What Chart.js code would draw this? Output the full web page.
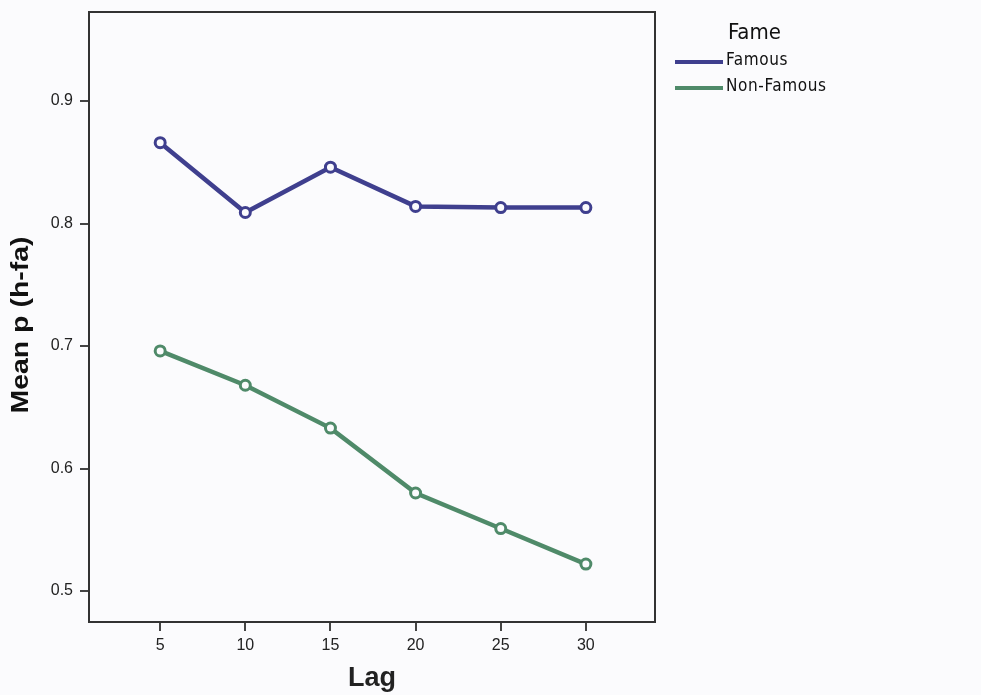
<!DOCTYPE html>
<html>
<head>
<meta charset="utf-8">
<script src="https://cdn.jsdelivr.net/npm/chart.js@4"></script>
<style>
  html, body { margin: 0; padding: 0; background: #fbfbfd; }
  #wrap { position: relative; width: 981px; height: 695px; }
</style>
</head>
<body>
<div id="wrap"><canvas id="c" width="981" height="695"></canvas></div>
<script>
const lags = [5, 10, 15, 20, 25, 30];
const famous = [0.866, 0.809, 0.846, 0.814, 0.813, 0.813];
const nonFamous = [0.696, 0.668, 0.633, 0.580, 0.551, 0.522];
const yTicks = [0.5, 0.6, 0.7, 0.8, 0.9];
const seriesNames = ['Famous', 'Non-Famous'];
const legendTitle = 'Fame';
const xTitle = 'Lag';
const yTitle = 'Mean p (h-fa)';

const colors = ['#3f3f8e', '#4f8a69'];
const bg = '#fbfbfd';

const framePlugin = {
  id: 'frame',
  afterDraw(chart) {
    const { ctx, chartArea: a } = chart;
    ctx.save();
    ctx.strokeStyle = '#333';
    ctx.lineWidth = 2;
    ctx.strokeRect(a.left, a.top, a.right - a.left, a.bottom - a.top);

    // y axis title (wide bold, stretched along its length)
    ctx.save();
    ctx.fillStyle = '#111';
    ctx.font = 'bold 23px "Liberation Sans", Arial, sans-serif';
    ctx.textAlign = 'center';
    ctx.textBaseline = 'middle';
    const w = ctx.measureText(yTitle).width;
    ctx.translate(22, 325);
    ctx.rotate(-Math.PI / 2);
    ctx.scale(177 / w, 1);
    ctx.fillText(yTitle, 0, 0);
    ctx.restore();

    // legend
    ctx.fillStyle = '#111';
    ctx.font = '22px "DejaVu Sans Condensed", "DejaVu Sans", sans-serif';
    ctx.textBaseline = 'middle';
    ctx.textAlign = 'left';
    ctx.fillText(legendTitle, 728, 33);
    chart.data.datasets.forEach((ds, i) => {
      const y = 62 + i * 26;
      ctx.strokeStyle = ds.borderColor;
      ctx.lineWidth = 4;
      ctx.beginPath();
      ctx.moveTo(675, y);
      ctx.lineTo(723, y);
      ctx.stroke();
      ctx.fillStyle = '#111';
      ctx.font = '17px "DejaVu Sans Condensed", "DejaVu Sans", sans-serif';
      try { ctx.letterSpacing = '0.6px'; } catch (e) {}
      ctx.fillText(ds.label, 726, y - 1);
      try { ctx.letterSpacing = '0px'; } catch (e) {}
    });
    ctx.restore();
  }
};

new Chart(document.getElementById('c'), {
  type: 'line',
  data: {
    datasets: [
      { label: seriesNames[0], data: lags.map((x, i) => ({ x, y: famous[i] })) },
      { label: seriesNames[1], data: lags.map((x, i) => ({ x, y: nonFamous[i] })) }
    ].map((d, i) => Object.assign(d, {
      borderColor: colors[i],
      backgroundColor: bg,
      borderWidth: 4.5,
      pointRadius: 5,
      pointBorderWidth: 3,
      pointBackgroundColor: bg,
      pointBorderColor: colors[i],
      tension: 0
    }))
  },
  options: {
    responsive: false,
    animation: false,
    events: [],
    layout: { padding: { top: 12, right: 326, bottom: 0, left: 0 } },
    plugins: { legend: { display: false }, tooltip: { enabled: false } },
    scales: {
      x: {
        type: 'linear',
        min: 0.82,
        max: 34.06,
        afterBuildTicks(s) { s.ticks = lags.map(v => ({ value: v })); },
        afterFit(s) { s.height = 73; s.paddingLeft = 0; s.paddingRight = 0; },
        grid: { drawOnChartArea: false, drawTicks: true, tickLength: 9, color: '#444', lineWidth: 2 },
        border: { display: true, color: '#333', width: 2 },
        ticks: {
          color: '#222',
          padding: 5,
          font: { family: '"Liberation Sans Narrow", "Liberation Sans", sans-serif', size: 16 },
          maxRotation: 0
        },
        title: {
          display: true, text: xTitle, color: '#222',
          font: { family: '"Liberation Sans Narrow", "Liberation Sans", sans-serif', size: 27, weight: 'bold' },
          padding: { top: 2, bottom: 0 }
        }
      },
      y: {
        type: 'linear',
        min: 0.4747,
        max: 0.9727,
        afterBuildTicks(s) { s.ticks = yTicks.map(v => ({ value: v })); },
        afterFit(s) { s.width = 89; s.paddingTop = 0; s.paddingBottom = 0; },
        grid: { drawOnChartArea: false, drawTicks: true, tickLength: 9, color: '#444', lineWidth: 2 },
        border: { display: true, color: '#333', width: 2 },
        ticks: {
          color: '#222',
          padding: 7,
          font: { family: '"Liberation Sans Narrow", "Liberation Sans", sans-serif', size: 16 },
          callback: v => v.toFixed(1)
        },
        title: { display: false }
      }
    }
  },
  plugins: [framePlugin]
});
</script>
</body>
</html>
